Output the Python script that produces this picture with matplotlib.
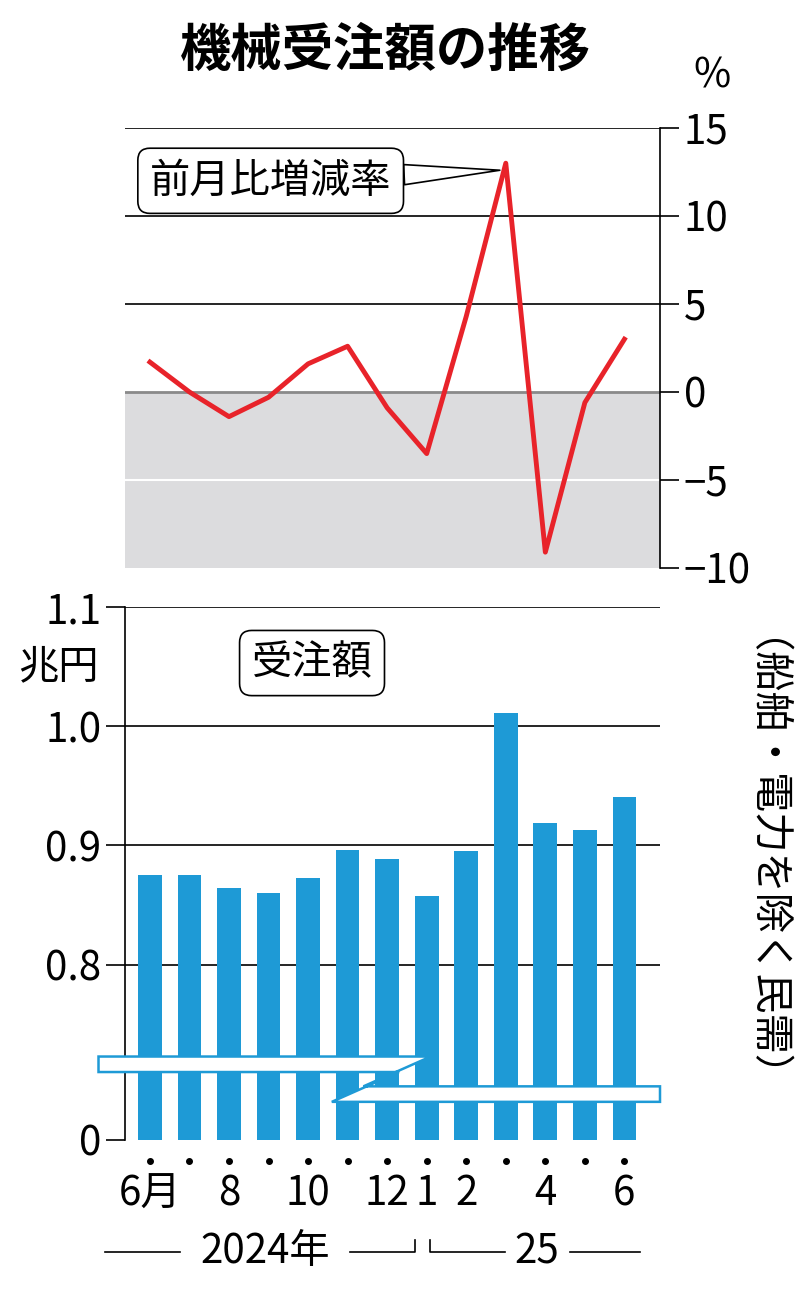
import matplotlib.pyplot as plt
from matplotlib.patches import Polygon

plt.rcParams['font.family'] = 'Noto Sans CJK JP'

months = ['6月', '7', '8', '9', '10', '11', '12', '1', '2', '3', '4', '5', '6']
shown = ['6月', '', '8', '', '10', '', '12', '1', '2', '', '4', '', '6']
change = [1.7, 0.0, -1.4, -0.3, 1.6, 2.6, -0.9, -3.5, 4.3, 13.0, -9.1, -0.6, 3.0]
orders = [0.875, 0.875, 0.864, 0.860, 0.873, 0.896, 0.889, 0.858, 0.895, 1.011, 0.919, 0.913, 0.941]

W, H = 800, 1298
fig = plt.figure(figsize=(W / 100, H / 100), dpi=100)
def fx(px): return px / W
def fy(py): return 1 - py / H

xs = list(range(len(months)))
xl = (-0.63, 12.9)
FS = 29

# top panel
ax1 = fig.add_axes([fx(125), fy(568), fx(660) - fx(125), fy(128) - fy(568)])
ax1.set_xlim(*xl)
ax1.set_ylim(-10, 15)
ax1.axhspan(-10, 0, color='#dcdcde', zorder=0)
for v in [15, 10, 5]:
    ax1.axhline(v, color='black', lw=1.2, zorder=1)
ax1.axhline(0, color='#8a8a8a', lw=2, zorder=1)
ax1.axhline(-5, color='white', lw=1.5, zorder=1)
ax1.plot(xs, change, color='#e8232a', lw=3.5, zorder=3)
for s in ['top', 'left', 'bottom']:
    ax1.spines[s].set_visible(False)
ax1.spines['right'].set_linewidth(1.2)
ax1.yaxis.tick_right()
ax1.set_yticks([15, 10, 5, 0, -5, -10])
ax1.set_yticklabels(['15', '10', '5', '0', '−5', '−10'])
ax1.tick_params(axis='y', labelsize=FS, length=14, width=1.2, direction='out', pad=3)
ax1.set_xticks([])
fig.text(fx(712), fy(76), '%', fontsize=FS, ha='center', va='center')
ax1.annotate('前月比増減率', xy=(8.85, 12.6), xytext=(0.0, 12.0),
             fontsize=FS, va='center', ha='left',
             bbox=dict(boxstyle='round,pad=0.3', fc='white', ec='black', lw=1.2),
             arrowprops=dict(arrowstyle='wedge,tail_width=0.5', fc='white', ec='black', lw=1.2,
                             shrinkA=0, shrinkB=0))

# bottom panel
base = 0.653
ax2 = fig.add_axes([fx(125), fy(1140), fx(660) - fx(125), fy(607) - fy(1140)])
ax2.set_xlim(*xl)
ax2.set_ylim(base, 1.1)
for v in [1.1, 1.0, 0.9, 0.8]:
    ax2.axhline(v, color='black', lw=1.2, zorder=1)
ax2.bar(xs, [o - base for o in orders], bottom=base, width=0.6, color='#1e9ad6', zorder=2)
for s in ['top', 'right', 'bottom']:
    ax2.spines[s].set_visible(False)
ax2.spines['left'].set_linewidth(1.2)
ax2.set_yticks([1.1, 1.0, 0.9, 0.8, base])
ax2.set_yticklabels(['1.1', '1.0', '0.9', '0.8', '0'])
ax2.tick_params(axis='y', labelsize=FS, length=14, width=1.2, pad=3)
ax2.set_xticks(xs)
ax2.set_xticklabels(shown)
ax2.tick_params(axis='x', labelsize=FS, length=0, pad=24)
ax2.plot(xs, [base - 0.018] * len(xs), 'o', color='black', ms=4, clip_on=False)

# break mark
brk = Polygon([(-1.3, 0.723), (7.1, 0.723), (5.4, 0.698), (12.9, 0.698),
               (12.9, 0.685), (4.6, 0.685), (6.3, 0.710), (-1.3, 0.710)],
              closed=True, fc='white', ec='#1e9ad6', lw=1.8, clip_on=False, zorder=4)
ax2.add_patch(brk)

ax2.text(4.1, 1.053, '受注額', fontsize=FS, ha='center', va='center',
         bbox=dict(boxstyle='round,pad=0.3', fc='white', ec='black', lw=1.2))
fig.text(fx(58), fy(667), '兆円', fontsize=FS, ha='center', va='center')
fig.text(fx(742), fy(880), '（船舶・電力を除く民需）', fontsize=FS, rotation=270,
         ha='center', va='center')

# year labels
fig.text(fx(265), fy(1252), '2024年', fontsize=FS, ha='center', va='center')
fig.text(fx(537), fy(1252), '25', fontsize=FS, ha='center', va='center')
fig.lines.append(plt.Line2D([fx(105), fx(180)], [fy(1252)] * 2, color='black', lw=1.2, transform=fig.transFigure))
fig.lines.append(plt.Line2D([fx(350), fx(415), fx(415)], [fy(1252), fy(1252), fy(1240)], color='black', lw=1.2, transform=fig.transFigure))
fig.lines.append(plt.Line2D([fx(430), fx(430), fx(505)], [fy(1240), fy(1252), fy(1252)], color='black', lw=1.2, transform=fig.transFigure))
fig.lines.append(plt.Line2D([fx(570), fx(640)], [fy(1252)] * 2, color='black', lw=1.2, transform=fig.transFigure))

fig.text(fx(385), fy(50), '機械受注額の推移', fontsize=37, fontweight='bold', ha='center', va='center')

fig.savefig('out.png', dpi=100, facecolor='white')
